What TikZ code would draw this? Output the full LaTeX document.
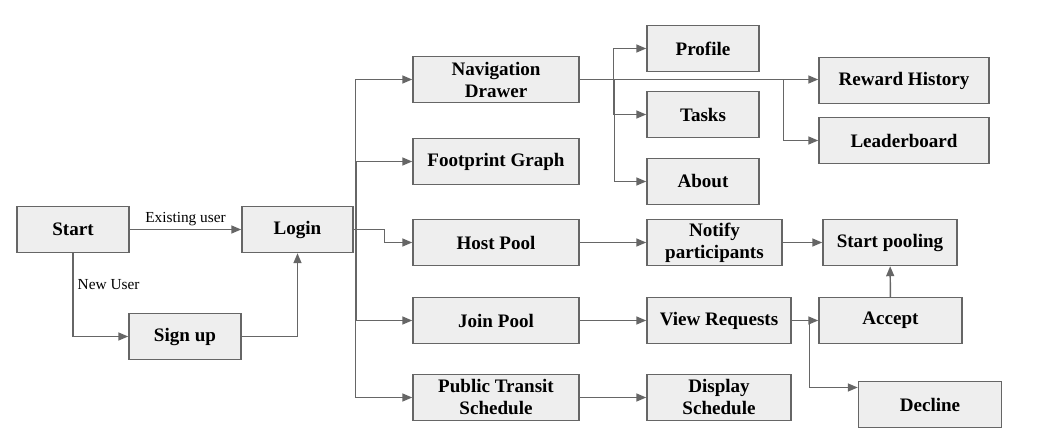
\documentclass[tikz,border=0pt]{standalone}
\usepackage{fontspec}
\setmainfont{Liberation Serif}
\usetikzlibrary{arrows.meta}
\definecolor{boxfill}{HTML}{EEEEEE}
\definecolor{linegray}{HTML}{666666}
\tikzset{
  box/.style={draw=linegray, fill=boxfill, line width=1.1pt, inner sep=0pt,
    minimum height=34.5pt, align=center,
    font=\fontsize{14.3}{16.5}\selectfont\bfseries},
  arr/.style={draw=linegray, line width=1.1pt,
    -{Triangle[length=7.5pt,width=6pt]}},
  lbl/.style={font=\fontsize{11.5}{13}\selectfont, inner sep=1pt}
}
\begin{document}
\begin{tikzpicture}[x=0.75pt,y=-0.75pt]
\path[use as bounding box] (0,0) rectangle (1046,441);
% nodes
\node[box, minimum width=84pt] (start) at (73,229.5) {Start};
\node[box, minimum width=83.25pt] (login) at (297.5,229.5) {Login};
\node[box, minimum width=84pt] (signup) at (185,336.5) {Sign up};
\node[box, minimum width=124.5pt] (nav) at (496,79.5) {Navigation\\Drawer};
\node[box, minimum width=124.5pt] (foot) at (496,161.5) {Footprint Graph};
\node[box, minimum width=124.5pt] (host) at (496,242.5) {Host Pool};
\node[box, minimum width=124.5pt] (join) at (496,320.5) {Join Pool};
\node[box, minimum width=124.5pt] (transit) at (496,397.5) {Public Transit\\Schedule};
\node[box, minimum width=84pt] (profile) at (703,48.5) {Profile};
\node[box, minimum width=84pt] (tasks) at (703,114.5) {Tasks};
\node[box, minimum width=84pt] (about) at (703,181.5) {About};
\node[box, minimum width=127.5pt] (reward) at (904,80.5) {Reward History};
\node[box, minimum width=127.5pt] (leader) at (904,140.5) {Leaderboard};
\node[box, minimum width=101.25pt] (notify) at (714.5,242.5) {Notify\\participants};
\node[box, minimum width=100.5pt] (pooling) at (890,242.5) {Start pooling};
\node[box, minimum width=108pt] (view) at (719,320.5) {View Requests};
\node[box, minimum width=107.25pt] (accept) at (890.5,320.5) {Accept};
\node[box, minimum width=108pt] (display) at (719,397.5) {Display\\Schedule};
\node[box, minimum width=107.25pt] (decline) at (930,404.5) {Decline};
% connectors
\draw[arr] (start) -- node[lbl, above, yshift=1pt] {Existing user} (login);
\draw[arr] (start.south) |- node[lbl, pos=0.19, right, xshift=2pt] {New User} (signup);
\draw[arr] (signup) -| (login);
\draw[arr] (login.east) -- ++(2,0) |- (nav);
\draw[arr] (login.east) -- ++(3,0) |- (foot);
\draw[arr] (login.east) -- ++(31,0) |- (host);
\draw[arr] (login.east) -- ++(3,0) |- (join);
\draw[arr] (login.east) -- ++(2,0) |- (transit);
\draw[arr] (nav.east) -- ++(34,0) |- (profile);
\draw[arr] (nav.east) -- ++(34,0) |- (tasks);
\draw[arr] (nav.east) -- ++(35,0) |- (about);
\draw[arr] (nav.east) -- (nav.east -| reward.west);
\draw[arr] (nav.east) -- ++(204,0) |- (leader);
\draw[arr] (host) -- (notify);
\draw[arr] (notify) -- (pooling);
\draw[arr] (join) -- (view);
\draw[arr] (view) -- (accept);
\draw[arr] (view.east) -- ++(18,0) |- ([yshift=12.75pt]decline.west);
\draw[arr] (accept) -- (pooling);
\draw[arr] (transit) -- (display);
\end{tikzpicture}
\end{document}
